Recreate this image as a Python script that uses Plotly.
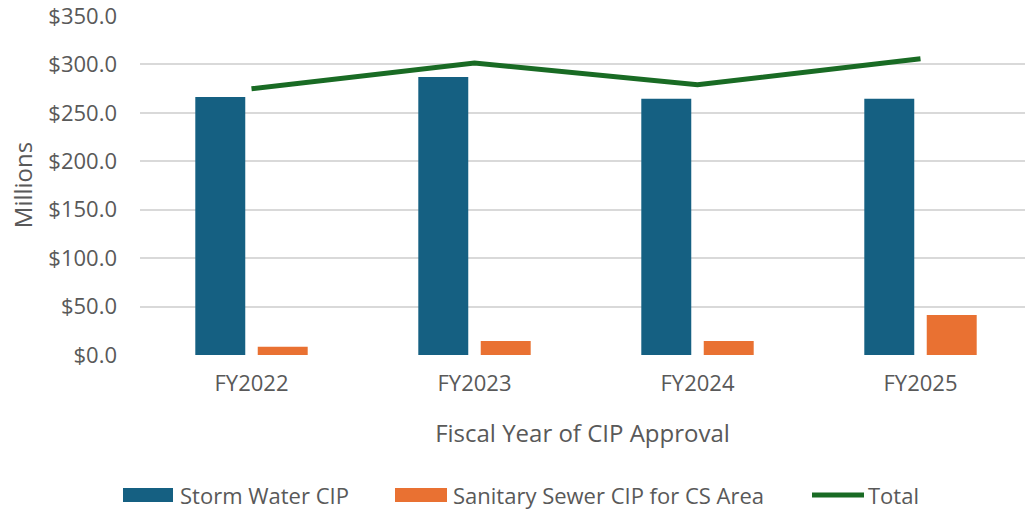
import plotly.graph_objects as go

categories = ["FY2022", "FY2023", "FY2024", "FY2025"]
storm_water = [266.4, 287.0, 264.5, 264.5]
sanitary_sewer = [8.5, 14.5, 14.5, 41.3]
total = [s + t for s, t in zip(storm_water, sanitary_sewer)]
y_ticks = [0, 50, 100, 150, 200, 250, 300, 350]
y_tick_labels = ["$%.1f" % v for v in y_ticks]

C_STORM = "#156082"
C_SEWER = "#E97132"
C_TOTAL = "#196B24"
C_TEXT = "#595959"
C_GRID = "#D9D9D9"
FONT = "Open Sans"

W, H = 1025, 509
ML, MR, MT, MB = 140, 0, 15, 154
PW, PH = W - ML - MR, H - MT - MB
CAT = 223.0  # px per category

fig = go.Figure()
fig.add_trace(go.Bar(x=categories, y=storm_water, name="Storm Water CIP",
                     marker=dict(color=C_STORM, line=dict(width=0))))
fig.add_trace(go.Bar(x=categories, y=sanitary_sewer, name="Sanitary Sewer CIP for CS Area",
                     marker=dict(color=C_SEWER, line=dict(width=0))))
fig.add_trace(go.Scatter(x=categories, y=total, name="Total", mode="lines",
                         line=dict(color=C_TOTAL, width=5)))

def px_x(p):
    return (p - ML) / PW

def px_y(p):
    return (H - MB - p) / PH

shapes = []
annotations = []
legend_y = 495
shapes.append(dict(type="rect", xref="paper", yref="paper",
                   x0=px_x(123), x1=px_x(173), y0=px_y(502), y1=px_y(488),
                   fillcolor=C_STORM, line=dict(width=0)))
shapes.append(dict(type="rect", xref="paper", yref="paper",
                   x0=px_x(395), x1=px_x(447), y0=px_y(502), y1=px_y(488),
                   fillcolor=C_SEWER, line=dict(width=0)))
shapes.append(dict(type="line", xref="paper", yref="paper",
                   x0=px_x(812), x1=px_x(864), y0=px_y(legend_y), y1=px_y(legend_y),
                   line=dict(color=C_TOTAL, width=5)))
for x, txt in [(178, "Storm Water CIP"), (451, "Sanitary Sewer CIP for CS Area"), (866, "Total")]:
    annotations.append(dict(xref="paper", yref="paper", x=px_x(x), y=px_y(legend_y),
                            text=txt, showarrow=False, xanchor="left", yanchor="middle",
                            font=dict(family=FONT, size=22, color=C_TEXT)))

fig.update_layout(
    width=W, height=H,
    margin=dict(l=ML, r=MR, t=MT, b=MB, pad=0),
    paper_bgcolor="white", plot_bgcolor="white",
    barmode="group", bargap=0.44, bargroupgap=0.2,
    showlegend=False,
    font=dict(family=FONT, size=22, color=C_TEXT),
    shapes=shapes, annotations=annotations,
    xaxis=dict(range=[-0.5, -0.5 + PW / CAT], showgrid=False, zeroline=False,
               showline=False, ticks="", ticklabelstandoff=13,
               tickfont=dict(family=FONT, size=22, color=C_TEXT),
               title=dict(text="Fiscal Year of CIP Approval", standoff=29,
                          font=dict(family=FONT, size=24, color=C_TEXT))),
    yaxis=dict(range=[0, 351], tickvals=y_ticks, ticktext=y_tick_labels,
               showgrid=True, gridcolor=C_GRID, gridwidth=2, zeroline=False,
               showline=False, ticks="", ticklabelstandoff=22,
               ticklabeloverflow="allow",
               tickfont=dict(family=FONT, size=22, color=C_TEXT),
               title=dict(text="Millions", standoff=8,
                          font=dict(family=FONT, size=24, color=C_TEXT))),
)
fig.write_html("out.html", config={"displayModeBar": False},
               post_script="document.body.style.margin='0';document.body.style.overflow='hidden';")
